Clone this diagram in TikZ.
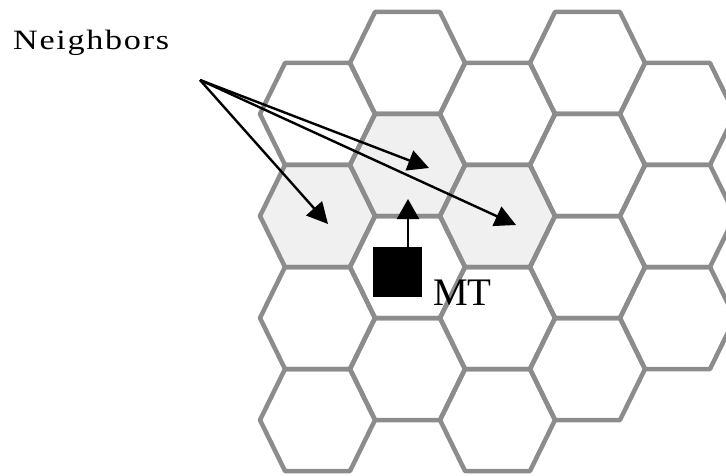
\documentclass[tikz,border=0pt]{standalone}
\usepackage{fontspec}
\setmainfont{Liberation Serif}
\newfontfamily\nbrfont[LetterSpace=5]{Liberation Serif}
\usetikzlibrary{arrows.meta}
\begin{document}
\begin{tikzpicture}[x=1pt,y=-1pt,
  hexline/.style={draw=black!45, line width=4.5pt, line join=round},
  hexshade/.style={fill=black!6},
  ptr/.style={draw=black, line width=2.4pt, -{Triangle[length=21pt,width=21pt]}},
  lbl/.style={inner sep=0pt, anchor=base west, text=black}
]
\useasboundingbox (0,0) rectangle (726,476);
\clip (0,0) rectangle (726,476);
% shaded neighbour cells
\foreach \cx/\cy in {317.5/216, 407.5/165, 497.5/216}{
  \fill[hexshade] (\cx,\cy) ++(-57.5,0) -- ++(25,-51) -- ++(65,0) -- ++(25,51) -- ++(-25,51) -- ++(-65,0) -- cycle;
}
% cell outlines
\foreach \cx/\cy in {317.5/114, 317.5/216, 317.5/318, 317.5/420,
                     407.5/63, 407.5/165, 407.5/267, 407.5/369,
                     497.5/114, 497.5/216, 497.5/318, 497.5/420,
                     587.5/63, 587.5/165, 587.5/267, 587.5/369,
                     677.5/114, 677.5/216, 677.5/318}{
  \draw[hexline] (\cx,\cy) ++(-57.5,0) -- ++(25,-51) -- ++(65,0) -- ++(25,51) -- ++(-25,51) -- ++(-65,0) -- cycle;
}
% labels
\node[lbl] (nbr) at (13,50) {\scalebox{1.22}[1]{\nbrfont\fontsize{28}{30}\selectfont Neighbors}};
\node[lbl] (mt) at (433,305) {\fontsize{39}{41}\selectfont MT};
% mobile terminal
\node[fill=black, minimum width=49pt, minimum height=50pt, inner sep=0pt] (sq) at (397.5,272) {};
% arrow end points
\coordinate (src) at (200,80);
\coordinate (nA) at (328,224);
\coordinate (nB) at (429,168);
\coordinate (nC) at (516,225);
\coordinate (mtTip) at (408,199);
\draw[ptr] (src) -- (nA);
\draw[ptr] (src) -- (nB);
\draw[ptr] (src) -- (nC);
\draw[ptr, -{Triangle[length=20pt,width=22pt]}] (sq.north -| mtTip) -- (mtTip);
\end{tikzpicture}
\end{document}
